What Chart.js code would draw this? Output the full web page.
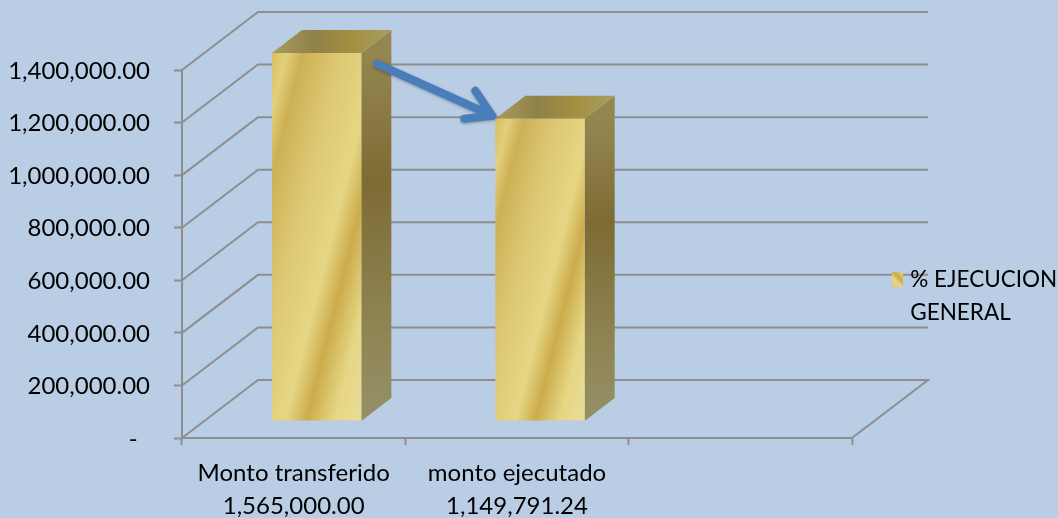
<!DOCTYPE html>
<html>
<head>
<meta charset="utf-8">
<style>
	html, body { margin: 0; padding: 0; background: #b9cde5; }
	canvas { display: block; }
</style>
<script src="https://cdn.jsdelivr.net/npm/chart.js@4"></script>
</head>
<body>
<canvas id="chart" width="1058" height="518"></canvas>
<script>
const categories = ['Monto transferido', 'monto ejecutado', ''];
const montos = [1565000.0, 1149791.24, null];
const serieLabel = ['% EJECUCION', 'GENERAL'];
const yMax = 1400000;
const yStep = 200000;

const fontFamily = 'Lato, "Noto Sans", sans-serif';
const gridColor = '#8e8e8e';
const barShare = 0.4;
const depthWall = { x: 76, y: -58 };
const depthFloor = { x: 23, y: -17 };
const depthBar = { x: 30, y: -23 };
const legendPos = { x: 892, y: 268, markerSize: 15, gap: 7 };

const money = (v) => v.toLocaleString('en-US', { minimumFractionDigits: 2, maximumFractionDigits: 2 });

// the axis stops at yMax, the first bar is cut there
const barValues = montos.map((v) => (v === null ? null : Math.min(v, yMax)));
const xLabels = categories.map((c, i) => (montos[i] === null ? '' : [c, money(montos[i])]));

function barBox(chart, i) {
	const { x, y } = chart.scales;
	const w = (x.width / categories.length) * barShare;
	const cx = x.getPixelForValue(i);
	return { l: cx - w / 2, r: cx + w / 2, w, top: y.getPixelForValue(barValues[i]), base: y.getPixelForValue(0) };
}

function frontGradient(ctx, box) {
	const h = box.base - box.top;
	const len = box.w * 0.97 + h * 0.244;
	const g = ctx.createLinearGradient(box.l, box.top, box.l + 0.97 * len, box.top + 0.244 * len);
	g.addColorStop(0, '#d8bd5e');
	g.addColorStop(0.08, '#e2cf7c');
	g.addColorStop(0.17, '#cdb053');
	g.addColorStop(0.35, '#dcc672');
	g.addColorStop(0.58, '#e6d684');
	g.addColorStop(0.7, '#cbac4c');
	g.addColorStop(0.85, '#e6d684');
	g.addColorStop(1, '#e9dc96');
	return g;
}

function legendMarker() {
	const size = legendPos.markerSize;
	const marker = document.createElement('canvas');
	marker.width = size;
	marker.height = size;
	const mctx = marker.getContext('2d');
	const g = mctx.createLinearGradient(0, size, size, 0);
	g.addColorStop(0, '#d8bd5e');
	g.addColorStop(0.45, '#e8d98a');
	g.addColorStop(0.65, '#cbac4c');
	g.addColorStop(1, '#e6d684');
	mctx.fillStyle = g;
	mctx.fillRect(0, 0, size, size);
	return marker;
}

// floor, left wall and back wall
const wallsPlugin = {
	id: 'walls',
	beforeDraw(chart) {
		const { ctx, scales: { y }, chartArea: { left, right } } = chart;
		ctx.save();
		ctx.strokeStyle = gridColor;
		ctx.lineWidth = 2;
		y.ticks.forEach((tick) => {
			const py = y.getPixelForValue(tick.value);
			ctx.beginPath();
			ctx.moveTo(left, py);
			ctx.lineTo(left + depthWall.x, py + depthWall.y);
			ctx.lineTo(right + depthWall.x, py + depthWall.y);
			if (tick.value === 0) {
				ctx.lineTo(right, py);
			}
			ctx.stroke();
		});
		ctx.restore();
	},
};

// bars sit a little back on the floor, with side and top faces
const bars3dPlugin = {
	id: 'bars3d',
	beforeDatasetsDraw(chart) {
		const { ctx } = chart;
		ctx.save();
		ctx.translate(depthFloor.x, depthFloor.y);
		barValues.forEach((v, i) => {
			if (v === null) return;
			const { l, r, top, base } = barBox(chart, i);

			const side = ctx.createLinearGradient(0, top, 0, base);
			side.addColorStop(0, '#958650');
			side.addColorStop(0.35, '#7e6b34');
			side.addColorStop(0.75, '#8f8554');
			side.addColorStop(1, '#959069');
			ctx.fillStyle = side;
			ctx.beginPath();
			ctx.moveTo(r, top);
			ctx.lineTo(r + depthBar.x, top + depthBar.y);
			ctx.lineTo(r + depthBar.x, base + depthBar.y);
			ctx.lineTo(r, base);
			ctx.closePath();
			ctx.fill();

			const face = ctx.createLinearGradient(l, 0, r + depthBar.x, 0);
			face.addColorStop(0, '#a99c60');
			face.addColorStop(0.35, '#8f8148');
			face.addColorStop(0.65, '#a28f3f');
			face.addColorStop(1, '#a99d62');
			ctx.fillStyle = face;
			ctx.beginPath();
			ctx.moveTo(l, top);
			ctx.lineTo(l + depthBar.x, top + depthBar.y);
			ctx.lineTo(r + depthBar.x, top + depthBar.y);
			ctx.lineTo(r, top);
			ctx.closePath();
			ctx.fill();
		});
	},
	afterDatasetsDraw(chart) {
		chart.ctx.restore();
	},
	afterLayout(chart) {
		// legend goes beside the plot, over the back wall lines
		const legend = chart.legend;
		legend.left = legendPos.x;
		legend.right = legend.left + legend.width;
		legend.top = legendPos.y;
		legend.bottom = legend.top + legend.height;
	},
};

// arrow from the first bar to the second
const arrowPlugin = {
	id: 'arrow',
	afterDraw(chart) {
		const { ctx } = chart;
		const a = barBox(chart, 0);
		const b = barBox(chart, 1);
		const x0 = a.r + depthFloor.x + 16;
		const y0 = a.top + depthFloor.y + 11;
		const x1 = b.l + depthFloor.x + 1;
		const y1 = b.top + depthFloor.y - 2;
		ctx.save();
		ctx.strokeStyle = '#4a7ebb';
		ctx.lineWidth = 8;
		ctx.lineCap = 'round';
		ctx.lineJoin = 'round';
		ctx.shadowColor = 'rgba(0,0,0,0.3)';
		ctx.shadowBlur = 3;
		ctx.shadowOffsetY = 1;
		ctx.beginPath();
		ctx.moveTo(x0, y0);
		ctx.lineTo(x1 - 4, y1 - 1);
		ctx.moveTo(x1 - 21, y1 - 26);
		ctx.lineTo(x1 - 4, y1 - 1);
		ctx.lineTo(x1 - 32, y1 + 2);
		ctx.stroke();
		ctx.restore();
	},
};

const ctx = document.getElementById('chart');
new Chart(ctx, {
	type: 'bar',
	data: {
		labels: xLabels,
		datasets: [
			{
				label: serieLabel.join(' '),
				data: barValues,
				backgroundColor: (c) => {
					if (c.type !== 'data' || barValues[c.dataIndex] === null) return '#d8bd5e';
					return frontGradient(c.chart.ctx, barBox(c.chart, c.dataIndex));
				},
				borderWidth: 0,
				barPercentage: barShare,
				categoryPercentage: 1,
				clip: false,
			},
		],
	},
	options: {
		responsive: false,
		animation: false,
		devicePixelRatio: 1,
		layout: { padding: { top: 70, right: 206, bottom: 0, left: 0 } },
		plugins: {
			tooltip: { enabled: false },
			legend: {
				position: 'chartArea',
				align: 'start',
				labels: {
					padding: 0,
					usePointStyle: true,
					boxWidth: legendPos.gap,
					boxHeight: legendPos.markerSize,
					color: '#000',
					font: { family: fontFamily, size: 22.5, lineHeight: 1.47 },
					generateLabels() {
						return [{ text: serieLabel, pointStyle: legendMarker(), fontColor: '#000', lineWidth: 0, strokeStyle: 'transparent', datasetIndex: 0 }];
					},
				},
			},
		},
		scales: {
			x: {
				afterFit(scale) { scale.height = 80; },
				border: { color: gridColor, width: 2 },
				grid: { drawOnChartArea: false, drawTicks: true, tickLength: 7, tickColor: gridColor, tickWidth: 2 },
				ticks: {
					color: '#000',
					padding: 12,
					autoSkip: false,
					maxRotation: 0,
					font: { family: fontFamily, size: 24, lineHeight: 1.38 },
				},
			},
			y: {
				min: 0,
				max: yMax,
				afterFit(scale) { scale.width = 182; },
				border: { color: gridColor, width: 2 },
				grid: { drawOnChartArea: false, drawTicks: true, tickLength: 8, tickColor: gridColor, tickWidth: 2 },
				ticks: {
					stepSize: yStep,
					color: '#000',
					padding: 24,
					labelOffset: 1,
					font: { family: fontFamily, size: 24 },
					callback: (v) => (v === 0 ? '-  ' : money(v)),
				},
			},
		},
	},
	plugins: [wallsPlugin, bars3dPlugin, arrowPlugin],
});
</script>
</body>
</html>
